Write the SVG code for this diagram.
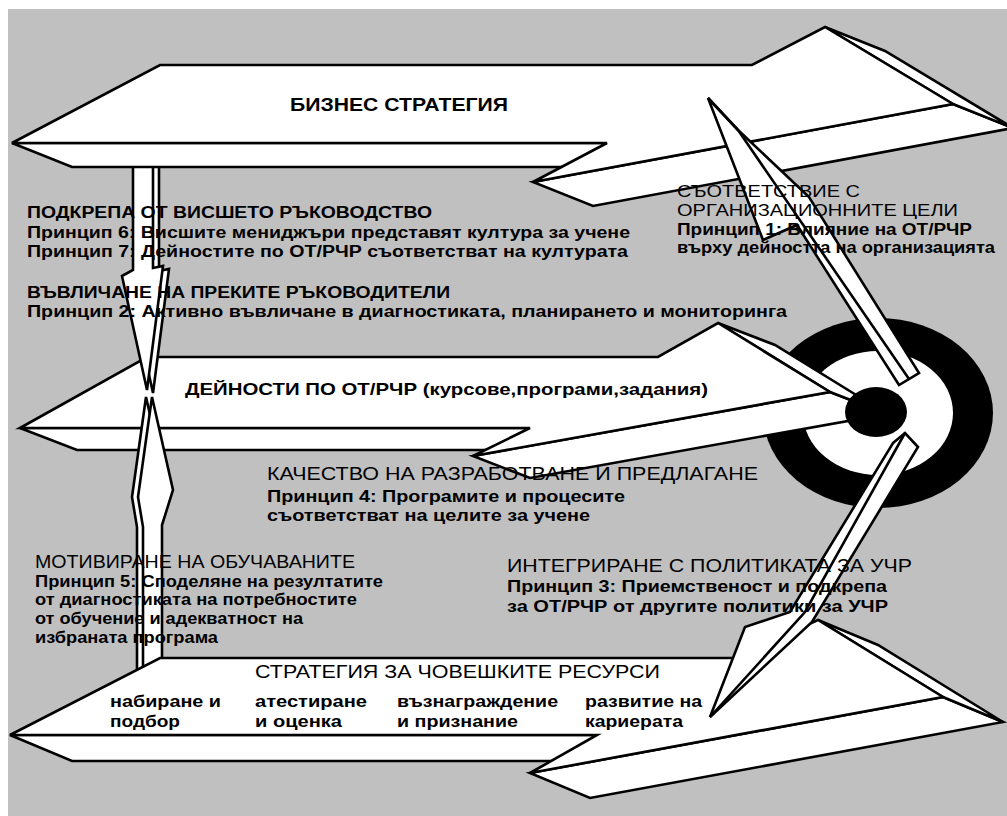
<svg xmlns="http://www.w3.org/2000/svg" width="1007" height="816" viewBox="0 0 1007 816">
<style>
.f{fill:#fff;stroke:#000;stroke-width:2.6;stroke-linejoin:miter}
.ln{fill:none;stroke:#000;stroke-width:2.6}
.b{font-family:"Liberation Sans",Arial,sans-serif;font-weight:bold;fill:#000}
.r{font-family:"Liberation Sans",Arial,sans-serif;font-weight:normal;fill:#000}
</style>
<rect x="0" y="0" width="1007" height="816" fill="#fff"/>
<rect x="8" y="9" width="999" height="807" fill="#c0c0c0"/>

<g id="target-outer">
<ellipse cx="878" cy="413" rx="115" ry="95" fill="#000"/>
<ellipse cx="878" cy="413" rx="75" ry="62" fill="#fff"/>
</g>

<g id="arrow-middle">
<polygon class="f" points="20,428 530,428 587,450 77,450"/>
<polygon class="f" points="473,456 830,392 887,414 530,478"/>
<polygon class="f" points="718,323 830,392 887,414 775,345"/>
<polygon class="f" points="20,428 147,357 658,357 718,323 830,392 473,456 530,428"/>
</g>

<g id="target-center">
<ellipse cx="876" cy="412" rx="31" ry="25" fill="#000"/>
</g>

<g id="arrow-down">
<polygon class="f" points="139,160 159,160 159,271 169,269 153,393 128,279 139,273"/>
<polygon class="f" points="133,160 153,160 153,268 163,266 147,390 122,276 133,270"/>
</g>

<g id="arrow-up">
<polygon class="f" points="137,690 137,527 132,497 146,397 167,490 156,525 156,690"/>
<polygon class="f" points="143,690 143,527 138,497 152,397 173,490 162,525 162,690"/>
</g>

<g id="arrow-top">
<polygon class="f" points="12,143 607,143 667,167 72,167"/>
<polygon class="f" points="533,182 953,104 1013,128 593,206"/>
<polygon class="f" points="825,27 953,104 1013,128 885,51"/>
<polygon class="f" points="12,143 160,65 752,65 825,27 953,104 533,182 607,143"/>
</g>

<g id="arrow-bottom">
<polygon class="f" points="10,735 597,735 659,761 72,761"/>
<polygon class="f" points="530,773 943,697 1003,722 590,798"/>
<polygon class="f" points="818,620 943,697 1003,722 878,645"/>
<polygon class="f" points="10,735 160,658 733,658 818,620 943,697 530,773 597,735"/>
</g>

<g id="arrow-diag1">
<polygon class="f" points="708,98 738,130 809,197 919,373 899,385 797,225 763,240"/>
<polyline class="ln" points="708,98 738,130 909,379"/>
</g>

<g id="arrow-diag2">
<polygon class="f" points="893,443 905,433 918,447 812,622 710,717 745,627 790,612"/>
<polyline class="ln" points="905,433 805,612 710,717"/>
</g>

<g id="labels">
<text class="b" x="290" y="111" font-size="19" textLength="218" lengthAdjust="spacingAndGlyphs">БИЗНЕС СТРАТЕГИЯ</text>

<text class="b" x="27" y="218" font-size="16" textLength="405" lengthAdjust="spacingAndGlyphs">ПОДКРЕПА ОТ ВИСШЕТО РЪКОВОДСТВО</text>
<text class="b" x="27" y="238" font-size="16" textLength="603" lengthAdjust="spacingAndGlyphs">Принцип 6: Висшите мениджъри представят култура за учене</text>
<text class="b" x="27" y="257" font-size="16" textLength="601" lengthAdjust="spacingAndGlyphs">Принцип 7: Дейностите по ОТ/РЧР съответстват на културата</text>
<text class="b" x="27" y="298" font-size="16" textLength="423" lengthAdjust="spacingAndGlyphs">ВЪВЛИЧАНЕ НА ПРЕКИТЕ РЪКОВОДИТЕЛИ</text>
<text class="b" x="27" y="317" font-size="16" textLength="760" lengthAdjust="spacingAndGlyphs">Принцип 2: Активно въвличане в диагностиката, планирането и мониторинга</text>

<text class="b" x="185" y="395" font-size="17" textLength="523" lengthAdjust="spacingAndGlyphs">ДЕЙНОСТИ ПО ОТ/РЧР (курсове,програми,задания)</text>

<text class="r" x="677" y="197" font-size="17" textLength="183" lengthAdjust="spacingAndGlyphs">СЪОТВЕТСТВИЕ С</text>
<text class="r" x="677" y="216" font-size="17" textLength="281" lengthAdjust="spacingAndGlyphs">ОРГАНИЗАЦИОННИТЕ ЦЕЛИ</text>
<text class="b" x="677" y="235" font-size="16" textLength="295" lengthAdjust="spacingAndGlyphs">Принцип 1: Влияние на ОТ/РЧР</text>
<text class="b" x="677" y="253" font-size="16" textLength="318" lengthAdjust="spacingAndGlyphs">върху дейността на организацията</text>

<text class="r" x="267" y="480" font-size="18" textLength="491" lengthAdjust="spacingAndGlyphs">КАЧЕСТВО НА РАЗРАБОТВАНЕ И ПРЕДЛАГАНЕ</text>
<text class="b" x="267" y="502" font-size="16" textLength="358" lengthAdjust="spacingAndGlyphs">Принцип 4: Програмите и процесите</text>
<text class="b" x="267" y="521" font-size="16" textLength="323" lengthAdjust="spacingAndGlyphs">съответстват на целите за учене</text>

<text class="r" x="35" y="568" font-size="18" textLength="320" lengthAdjust="spacingAndGlyphs">МОТИВИРАНЕ НА ОБУЧАВАНИТЕ</text>
<text class="b" x="35" y="587" font-size="16" textLength="348" lengthAdjust="spacingAndGlyphs">Принцип 5: Споделяне на резултатите</text>
<text class="b" x="35" y="605" font-size="16" textLength="322" lengthAdjust="spacingAndGlyphs">от диагностиката на потребностите</text>
<text class="b" x="35" y="624" font-size="16" textLength="268" lengthAdjust="spacingAndGlyphs">от обучение и адекватност на</text>
<text class="b" x="35" y="643" font-size="16" textLength="183" lengthAdjust="spacingAndGlyphs">избраната програма</text>

<text class="r" x="507" y="572" font-size="18" textLength="405" lengthAdjust="spacingAndGlyphs">ИНТЕГРИРАНЕ С ПОЛИТИКАТА ЗА УЧР</text>
<text class="b" x="507" y="592" font-size="16" textLength="380" lengthAdjust="spacingAndGlyphs">Принцип 3: Приемственост и подкрепа</text>
<text class="b" x="507" y="612" font-size="16" textLength="381" lengthAdjust="spacingAndGlyphs">за ОТ/РЧР от другите политики за УЧР</text>

<text class="r" x="255" y="678" font-size="18" textLength="405" lengthAdjust="spacingAndGlyphs">СТРАТЕГИЯ ЗА ЧОВЕШКИТЕ РЕСУРСИ</text>
<text class="b" x="110" y="707" font-size="17" textLength="111" lengthAdjust="spacingAndGlyphs">набиране и</text>
<text class="b" x="110" y="727" font-size="17" textLength="70" lengthAdjust="spacingAndGlyphs">подбор</text>
<text class="b" x="255" y="707" font-size="17" textLength="112" lengthAdjust="spacingAndGlyphs">атестиране</text>
<text class="b" x="255" y="727" font-size="17" textLength="87" lengthAdjust="spacingAndGlyphs">и оценка</text>
<text class="b" x="397" y="707" font-size="17" textLength="161" lengthAdjust="spacingAndGlyphs">възнаграждение</text>
<text class="b" x="397" y="727" font-size="17" textLength="121" lengthAdjust="spacingAndGlyphs">и признание</text>
<text class="b" x="585" y="707" font-size="17" textLength="117" lengthAdjust="spacingAndGlyphs">развитие на</text>
<text class="b" x="585" y="727" font-size="17" textLength="98" lengthAdjust="spacingAndGlyphs">кариерата</text>
</g>
</svg>
